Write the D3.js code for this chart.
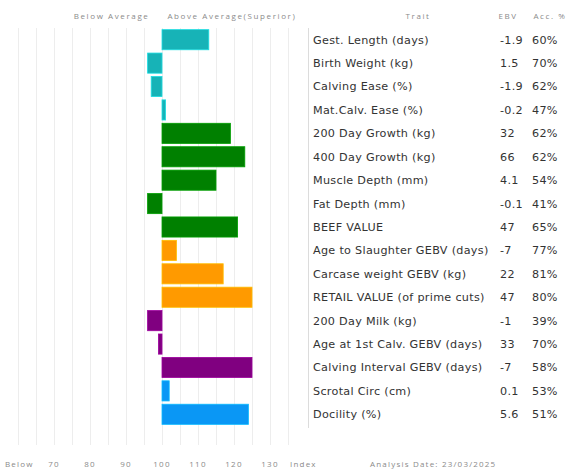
<!DOCTYPE html>
<html>
<head>
<meta charset="utf-8">
<script src="https://cdn.jsdelivr.net/npm/d3@7"></script>
<style>
  body { margin: 0; background: #fff; }
  svg { display: block; }
</style>
</head>
<body>
<svg></svg>
<script>
const traits = [
  "Gest. Length (days)", "Birth Weight (kg)", "Calving Ease (%)", "Mat.Calv. Ease (%)",
  "200 Day Growth (kg)", "400 Day Growth (kg)", "Muscle Depth (mm)", "Fat Depth (mm)",
  "BEEF VALUE", "Age to Slaughter GEBV (days)", "Carcase weight GEBV (kg)",
  "RETAIL VALUE (of prime cuts)", "200 Day Milk (kg)", "Age at 1st Calv. GEBV (days)",
  "Calving Interval GEBV (days)", "Scrotal Circ (cm)", "Docility (%)"
];
const ebv = ["-1.9", "1.5", "-1.9", "-0.2", "32", "66", "4.1", "-0.1", "47", "-7", "22", "47", "-1", "33", "-7", "0.1", "5.6"];
const acc = ["60%", "70%", "62%", "47%", "62%", "62%", "54%", "41%", "65%", "77%", "81%", "80%", "39%", "70%", "58%", "53%", "51%"];
const indexValues = [113, 96, 97, 101, 119, 123, 115, 96, 121, 104, 117, 125, 96, 99, 125, 102, 124];
const groups = ["calving", "calving", "calving", "calving", "growth", "growth", "growth", "growth", "growth",
  "carcase", "carcase", "carcase", "maternal", "maternal", "maternal", "temper", "temper"];
const groupNames = ["calving", "growth", "carcase", "maternal", "temper"];
const groupColors = ["#17b3b7", "#008000", "#ff9a00", "#800080", "#0a97f5"];
const tickLabels = ["Below", "70", "80", "90", "100", "110", "120", "130", "Index"];
const tickValues = [60, 70, 80, 90, 100, 110, 120, 130, 138];

const width = 574, height = 475;
const svg = d3.select("svg").attr("width", width).attr("height", height);

const x = d3.scaleLinear().domain([60, 140]).range([18, 306]);
const y = d3.scaleBand().domain(traits).range([28, 426]).paddingInner(0.14).paddingOuter(0.07);
const color = d3.scaleOrdinal().domain(groupNames).range(groupColors);

const grey = "#8a8a8a";
const font = "'Open Sans', sans-serif";

// grid
svg.append("g")
  .selectAll("line")
  .data(d3.range(60, 140, 5))
  .join("line")
  .attr("x1", d => x(d) + 0.5).attr("x2", d => x(d) + 0.5)
  .attr("y1", 28).attr("y2", 445)
  .attr("stroke", "#ededed");

// table border
svg.append("line")
  .attr("x1", 308.5).attr("x2", 308.5).attr("y1", 28).attr("y2", 428)
  .attr("stroke", "#dcdcdc");

// headers
const header = svg.append("g").attr("font-family", font).attr("font-size", 8)
  .attr("fill", grey).attr("letter-spacing", 1.6);
header.append("text").attr("x", x(86)).attr("y", 19).attr("text-anchor", "middle").text("Below Average");
header.append("text").attr("x", x(101.5)).attr("y", 19).text("Above Average(Superior)");
header.append("text").attr("x", 418).attr("y", 19).attr("text-anchor", "middle").text("Trait");
header.append("text").attr("x", 508).attr("y", 19).attr("text-anchor", "middle").text("EBV");
header.append("text").attr("x", 550).attr("y", 19).attr("text-anchor", "middle").text("Acc. %");

// bars
svg.append("g")
  .selectAll("rect")
  .data(traits)
  .join("rect")
  .attr("x", (d, i) => Math.min(x(100), x(indexValues[i])))
  .attr("width", (d, i) => Math.abs(x(indexValues[i]) - x(100)))
  .attr("y", d => y(d))
  .attr("height", y.bandwidth())
  .attr("fill", (d, i) => color(groups[i]))
  .attr("stroke", (d, i) => d3.color(color(groups[i])).brighter(0.6))
  .attr("stroke-width", 0.8);

// table rows
const rows = svg.append("g").attr("font-family", "'DejaVu Sans', sans-serif")
  .attr("font-size", 11.2).attr("letter-spacing", 0.3).attr("fill", "#333");
rows.selectAll(".trait").data(traits).join("text").attr("class", "trait")
  .attr("x", 313).attr("y", d => y(d) + y.bandwidth() / 2).attr("dy", "0.35em").text(d => d);
rows.selectAll(".ebv").data(traits).join("text").attr("class", "ebv")
  .attr("x", 500).attr("y", d => y(d) + y.bandwidth() / 2).attr("dy", "0.35em").text((d, i) => ebv[i]);
rows.selectAll(".acc").data(traits).join("text").attr("class", "acc")
  .attr("x", 532).attr("y", d => y(d) + y.bandwidth() / 2).attr("dy", "0.35em").text((d, i) => acc[i]);

// bottom axis labels
const bottom = svg.append("g").attr("font-family", font).attr("font-size", 8)
  .attr("fill", grey).attr("letter-spacing", 1.2);
bottom.selectAll("text").data(tickLabels).join("text")
  .attr("x", (d, i) => i === 0 ? 5 : (i === tickLabels.length - 1 ? 290 : x(tickValues[i])))
  .attr("y", 467)
  .attr("text-anchor", (d, i) => (i === 0 || i === tickLabels.length - 1) ? "start" : "middle")
  .text(d => d);
bottom.append("text").attr("x", 370).attr("y", 467).text("Analysis Date: 23/03/2025");
</script>
</body>
</html>
